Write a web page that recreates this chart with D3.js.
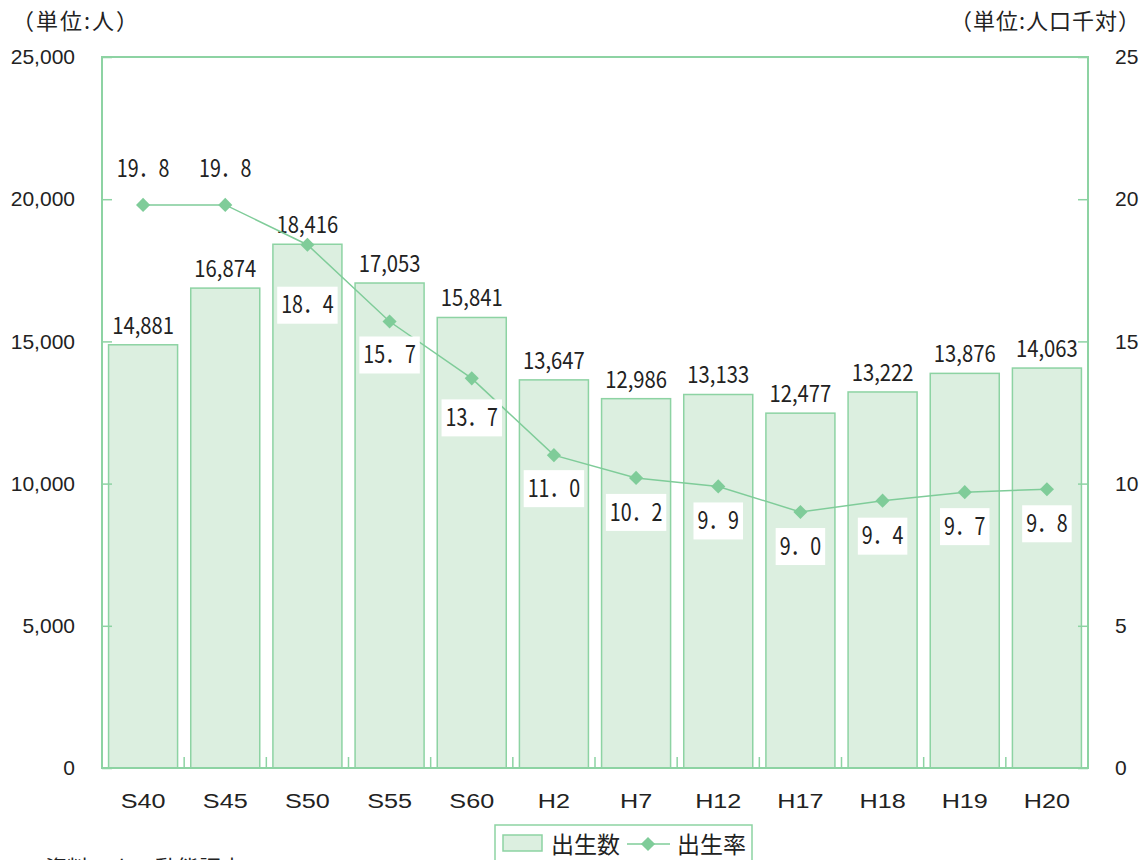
<!DOCTYPE html>
<html><head><meta charset="utf-8">
<script src="https://cdn.jsdelivr.net/npm/d3@7"></script>
<style>body{margin:0;background:#fff;} svg{display:block;}</style>
</head><body>
<svg id="c" width="1142" height="860"></svg>
<script>
const categories = ['S40','S45','S50','S55','S60','H2','H7','H12','H17','H18','H19','H20'];
const births = [14881,16874,18416,17053,15841,13647,12986,13133,12477,13222,13876,14063];
const rates = [19.8,19.8,18.4,15.7,13.7,11.0,10.2,9.9,9.0,9.4,9.7,9.8];
const leftTicks = [0,5000,10000,15000,20000,25000];
const rightTicks = [0,5,10,15,20,25];
// layout: vertical offset of each rate label from its point (px)
const rateLabelOffsets = [-37,-37,60,33,39,33,34,34,34,35,34,34];

const svg = d3.select('#c');
const L=102, R=1088, T=57, B=768;
const green='#8dd3a3', fill='#dcefe0', lineC='#7fcc99', txt='#222';
const jp = '"Noto Sans CJK JP","Noto Sans",sans-serif';
const lat = '"Liberation Sans",Arial,sans-serif';

const x = d3.scaleBand().domain(categories).range([L,R]).paddingInner(0.16).paddingOuter(0.08);
const y = d3.scaleLinear().domain([0,25000]).range([B,T]);
const y2 = d3.scaleLinear().domain([0,25]).range([B,T]);

// bars
svg.append('g').selectAll('rect').data(births).join('rect')
  .attr('x',(d,i)=>x(categories[i])).attr('y',d=>y(d))
  .attr('width',x.bandwidth()).attr('height',d=>B-y(d))
  .attr('fill',fill).attr('stroke',green).attr('stroke-width',1.5);

// frame
svg.append('rect').attr('x',L).attr('y',T).attr('width',R-L).attr('height',B-T)
  .attr('fill','none').attr('stroke',green).attr('stroke-width',2);

// axes
const ga = svg.append('g').attr('transform',`translate(${L},0)`)
  .call(d3.axisLeft(y).tickValues(leftTicks).tickSize(-10).tickPadding(27).tickFormat(d3.format(',')));
const gb = svg.append('g').attr('transform',`translate(${R},0)`)
  .call(d3.axisRight(y2).tickValues(rightTicks).tickSize(-10).tickPadding(27).tickFormat(d3.format('d')));
[ga,gb].forEach(g=>{
  g.select('.domain').remove();
  g.selectAll('line').attr('stroke',green).attr('stroke-width',1.5);
  g.selectAll('text').attr('font-family',lat).attr('font-size',21).attr('fill',txt);
});
// x axis
const gx = svg.append('g').attr('transform',`translate(0,${B})`)
  .call(d3.axisBottom(x).tickSize(0).tickPadding(25));
gx.select('.domain').remove();
gx.selectAll('text').attr('font-family',lat).attr('font-size',21).attr('fill',txt)
  .attr('transform','scale(1.2,1)');
// category separator ticks
const step = x.step();
svg.append('g').selectAll('line').data(categories.slice(1)).join('line')
  .attr('x1',d=>x(d)-step*0.08).attr('x2',d=>x(d)-step*0.08)
  .attr('y1',B).attr('y2',B-11).attr('stroke',green).attr('stroke-width',1.5);

// bar labels
svg.append('g').selectAll('g').data(births).join('g')
  .attr('transform',(d,i)=>`translate(${x(categories[i])+x.bandwidth()/2},${y(d)-11})`)
  .append('text').attr('transform','scale(0.88,1)')
  .attr('text-anchor','middle').attr('font-family',jp).attr('font-size',23).attr('fill',txt)
  .text(d=>d3.format(',')(d));

// line
const cx = (i)=>x(categories[i])+x.bandwidth()/2;
svg.append('path').datum(rates)
  .attr('d',d3.line().x((d,i)=>cx(i)).y(d=>y2(d)))
  .attr('fill','none').attr('stroke',lineC).attr('stroke-width',1.5);
svg.append('g').selectAll('path').data(rates).join('path')
  .attr('d',d3.symbol().type(d3.symbolSquare).size(100))
  .attr('transform',(d,i)=>`translate(${cx(i)},${y2(d)}) rotate(45)`)
  .attr('fill',lineC);

// rate labels
const SX = 0.82;
const rl = svg.append('g').selectAll('g').data(rates).join('g')
  .attr('transform',(d,i)=>`translate(${cx(i)},${y2(d)+rateLabelOffsets[i]})`);
rl.append('rect').attr('y',-18).attr('height',37).attr('fill','#fff');
const rtxt = rl.append('text').attr('text-anchor','middle').attr('dy','0.36em')
  .attr('transform',`scale(${SX},1)`)
  .attr('font-family',jp).attr('font-size',24).attr('fill',txt)
  .text(d=>d.toFixed(1).replace('.','．'));
rtxt.each(function(d,i){
  const w = this.getComputedTextLength()*SX + 8;
  d3.select(this.parentNode).select('rect').attr('x',-w/2).attr('width',w);
});

// unit labels
svg.append('text').attr('x',12).attr('y',29).attr('font-family',jp).attr('font-size',22)
  .attr('letter-spacing',2).attr('fill',txt).text('（単位:人）');
svg.append('text').attr('x',1141).attr('y',29).attr('text-anchor','end').attr('font-family',jp).attr('font-size',22)
  .attr('letter-spacing',1).attr('fill',txt).text('（単位:人口千対）');

// legend
const lg = svg.append('g');
lg.append('rect').attr('x',495).attr('y',825).attr('width',257).attr('height',50).attr('fill','#fff').attr('stroke',green).attr('stroke-width',1.5);
lg.append('rect').attr('x',503).attr('y',835).attr('width',39).attr('height',16).attr('fill',fill).attr('stroke',green).attr('stroke-width',1.5);
lg.append('text').attr('x',551).attr('y',853).attr('font-family',jp).attr('font-size',23).attr('fill',txt).text('出生数');
lg.append('line').attr('x1',627).attr('x2',670).attr('y1',844).attr('y2',844).attr('stroke',lineC).attr('stroke-width',1.5);
lg.append('path').attr('d',d3.symbol().type(d3.symbolSquare).size(100)).attr('transform','translate(648,844) rotate(45)').attr('fill',lineC);
lg.append('text').attr('x',677).attr('y',853).attr('font-family',jp).attr('font-size',23).attr('fill',txt).text('出生率');

// source (partly below the bottom edge, as in the reference)
svg.append('text').attr('x',45).attr('y',876).attr('font-family',jp).attr('font-size',22).attr('fill',txt).text('資料：人口動態調査');
</script>
</body></html>
